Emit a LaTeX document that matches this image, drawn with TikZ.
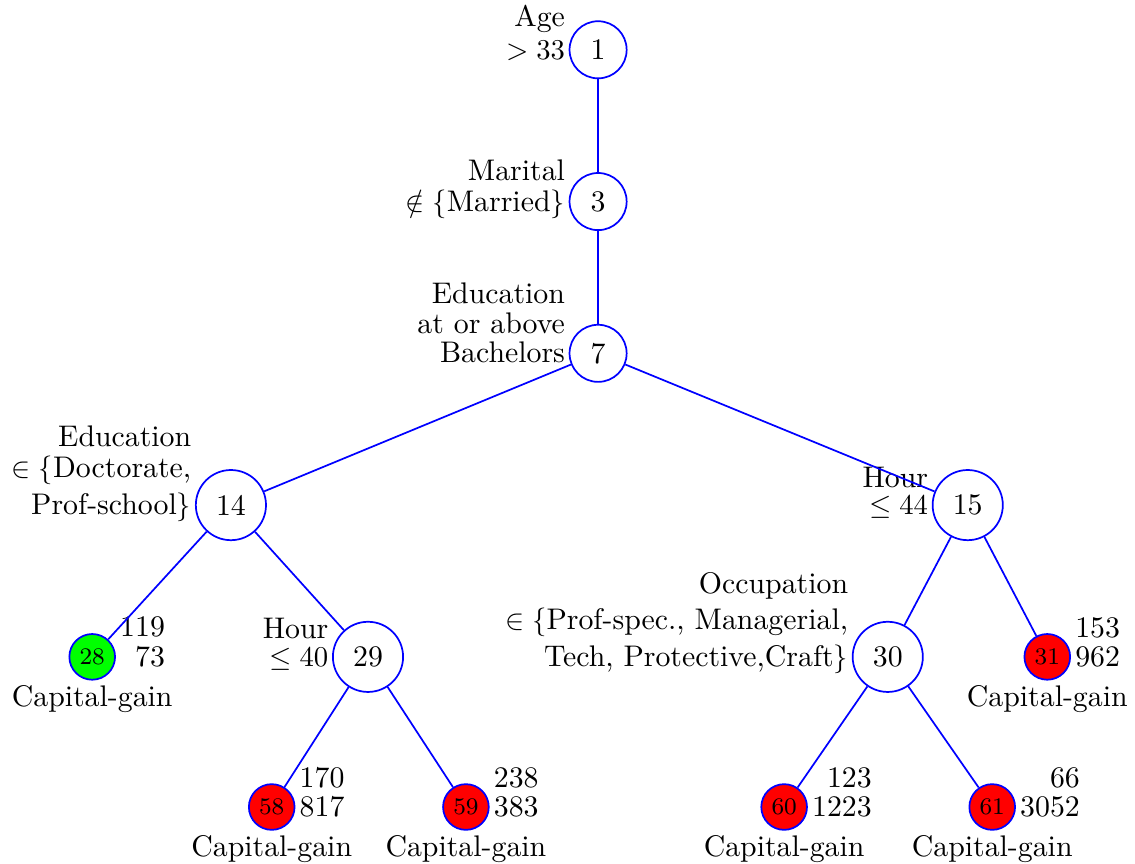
\documentclass[tikz,border=0pt]{standalone}
\usepackage{amsmath}
\usepackage{amssymb}
\usetikzlibrary{positioning}
\tikzset{
tree/.style={node distance=1.86cm and 4.5cm,on grid,semithick,font=\fontsize{10.4}{12.5}\selectfont},
split/.style={circle,draw=blue,minimum size=0.86cm,inner sep=1pt},
top split/.style={split,minimum size=0.70cm},
leaf/.style={circle,draw=blue,fill=red,minimum size=0.56cm,inner sep=0pt,font=\fontsize{8.3}{10}\selectfont},
good leaf/.style={leaf,fill=green},
rule/.style={anchor=base east,inner sep=1pt,yshift=-3.3pt,font=\fontsize{10.4}{12.5}\selectfont},
counts/.style={anchor=base west,inner sep=1.2pt,yshift=-3.3pt,font=\fontsize{10.4}{12.5}\selectfont},
gain/.style={inner sep=1.3pt,font=\fontsize{10.4}{12.5}\selectfont},
branch/.style={draw=blue},
}
\begin{document}
\begin{tikzpicture}[tree]
\useasboundingbox (0,0) rectangle (13.91,-10.58);
\node[top split] (n1) at (7.33,-0.61) [label={[rule]left:{\shortstack[r]{Age\\$>33$}}}] {1};
\node[top split] (n3) [below=of n1,label={[rule]left:{\shortstack[r]{Marital\\$\notin\{$Married$\}$}}}] {3};
\node[top split] (n7) [below=of n3,label={[rule]left:{\shortstack[r]{Education\\at or above\\Bachelors}}}] {7};
\node[split] (n14) [below left=1.86cm and 4.50cm of n7,label={[rule]left:{\shortstack[r]{Education\\$\in\{$Doctorate,\\Prof-school$\}$}}}] {14};
\node[split] (n15) [below right=1.86cm and 4.53cm of n7,label={[rule]left:{\shortstack[r]{Hour\\$\leq 44$}}}] {15};
\node[good leaf] (n28) [below left=1.86cm and 1.70cm of n14,label={[counts]right:{\shortstack[r]{119\\73}}},label={[gain]below:Capital-gain}] {28};
\node[split] (n29) [below right=1.86cm and 1.68cm of n14,label={[rule]left:{\shortstack[r]{Hour\\$\leq 40$}}}] {29};
\node[split] (n30) [below left=1.86cm and 0.98cm of n15,label={[rule]left:{\shortstack[r]{Occupation\\$\in\{$Prof-spec., Managerial,\\Tech, Protective,Craft$\}$}}}] {30};
\node[leaf] (n31) [below right=1.86cm and 0.975cm of n15,label={[counts]right:{\shortstack[r]{153\\962}}},label={[gain]below:Capital-gain}] {31};
\node[leaf] (n58) [below left=1.84cm and 1.18cm of n29,label={[counts]right:{\shortstack[r]{170\\817}}},label={[gain]below:Capital-gain}] {58};
\node[leaf] (n59) [below right=1.84cm and 1.20cm of n29,label={[counts]right:{\shortstack[r]{238\\383}}},label={[gain]below:Capital-gain}] {59};
\node[leaf] (n60) [below left=1.84cm and 1.27cm of n30,label={[counts]right:{\shortstack[r]{123\\1223}}},label={[gain]below:Capital-gain}] {60};
\node[leaf] (n61) [below right=1.84cm and 1.28cm of n30,label={[counts]right:{\shortstack[r]{66\\3052}}},label={[gain]below:Capital-gain}] {61};

\path[branch] (n1) edge (n3);
\path[branch] (n3) edge (n7);
\path[branch] (n7) edge (n14);
\path[branch] (n7) edge (n15);
\path[branch] (n14) edge (n28);
\path[branch] (n14) edge (n29);
\path[branch] (n15) edge (n30);
\path[branch] (n15) edge (n31);
\path[branch] (n29) edge (n58);
\path[branch] (n29) edge (n59);
\path[branch] (n30) edge (n60);
\path[branch] (n30) edge (n61);
\end{tikzpicture}
\end{document}
